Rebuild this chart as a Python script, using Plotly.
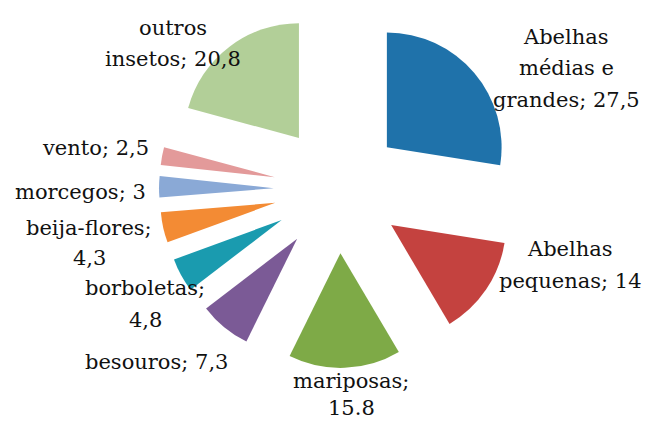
import plotly.graph_objects as go

categories = ["Abelhas médias e grandes", "Abelhas pequenas", "mariposas", "besouros",
              "borboletas", "beija-flores", "morcegos", "vento", "outros insetos"]
values = [27.5, 14, 15.8, 7.3, 4.8, 4.3, 3, 2.5, 20.8]
value_labels = ["27,5", "14", "15.8", "7,3", "4,8", "4,3", "3", "2,5", "20,8"]
# label text split into lines; value label is appended to the last line
label_lines = [["Abelhas", "médias e", "grandes; "], ["Abelhas", "pequenas; "],
               ["mariposas;", ""], ["besouros; "], ["borboletas;", ""],
               ["beija-flores;", ""], ["morcegos; "], ["vento; "], ["outros", "insetos; "]]

colors = ["#1F72AA", "#C4423F", "#7EAA47", "#7B5A96", "#1A9BAF",
          "#F38B34", "#8AA9D6", "#E39A9A", "#B2CF98"]

# label placement in pixels (layout only): x centre, y centre of each line
label_x = [566, 570, 351, 156, 145, 89, 80, 95, 173]
label_y = [[37, 68, 100], [249, 281], [381, 408], [362], [288, 320],
           [228, 258], [192], [148], [28, 59]]

W, H = 652, 422
OFF = 8  # page body margin offset

def px2x(px):
    return (px - OFF) / W

def py2y(py):
    return 1 - (py - OFF) / H

CX, CY, EXT = 338, 189, 179

fig = go.Figure(go.Pie(
    labels=categories,
    values=values,
    sort=False,
    direction="clockwise",
    rotation=0,
    pull=[0.56] * len(values),
    marker=dict(colors=colors, line=dict(width=0)),
    textinfo="none",
    textposition="none",
    showlegend=False,
    domain=dict(x=[px2x(CX - EXT), px2x(CX + EXT)], y=[py2y(CY + EXT), py2y(CY - EXT)]),
))

for lines, val, lx, lys in zip(label_lines, value_labels, label_x, label_y):
    texts = lines[:-1] + [lines[-1] + val]
    for t, ly in zip(texts, lys):
        fig.add_annotation(
            text=t, x=px2x(lx), y=py2y(ly), xref="paper", yref="paper",
            xanchor="center", yanchor="middle", align="center", showarrow=False,
            font=dict(family="DejaVu Serif", size=21, color="#111111"),
        )

fig.update_layout(
    width=W, height=H,
    margin=dict(l=0, r=0, t=0, b=0),
    paper_bgcolor="white",
    plot_bgcolor="white",
    font=dict(family="DejaVu Serif"),
)

fig.write_html("out.html")
